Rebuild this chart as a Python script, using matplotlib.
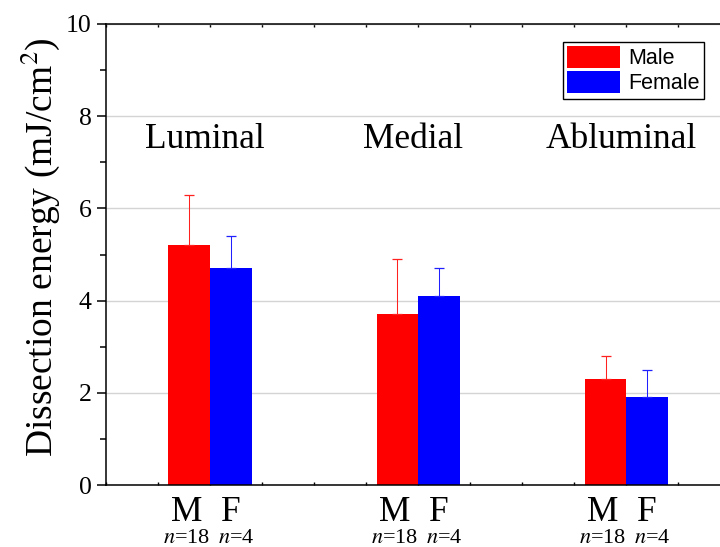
import numpy as np
import matplotlib.pyplot as plt
from matplotlib.ticker import MultipleLocator

plt.rcParams['font.family'] = 'Liberation Serif'
plt.rcParams['mathtext.fontset'] = 'stix'

# data
regions = ["Luminal", "Medial", "Abluminal"]
male_mean = [5.2, 3.7, 2.3]
male_err = [1.1, 1.2, 0.5]
female_mean = [4.7, 4.1, 1.9]
female_err = [0.7, 0.6, 0.6]
male_n = ["$n$=18", "$n$=18", "$n$=18"]
female_n = ["$n$=4", "$n$=4", "$n$=4"]

centers = np.array([2.0, 6.0, 10.0])
w = 0.8

fig = plt.figure(figsize=(7.2, 5.47), dpi=100)
ax = fig.add_axes([106 / 720, 1 - 485 / 547, 614 / 720, 461 / 547])

ax.bar(centers - w / 2, male_mean, w, color="#ff0000", label="Male", zorder=2)
ax.bar(centers + w / 2, female_mean, w, color="#0000ff", label="Female", zorder=2)
ax.errorbar(centers - w / 2, male_mean, yerr=[np.zeros(3), male_err], fmt="none",
            ecolor="#ff2020", elinewidth=0.75, capsize=3.6, capthick=0.9, zorder=3)
ax.errorbar(centers + w / 2, female_mean, yerr=[np.zeros(3), female_err], fmt="none",
            ecolor="#2020ff", elinewidth=0.75, capsize=3.6, capthick=0.9, zorder=3)

ax.set_xlim(0, 11.8)
ax.set_ylim(0, 10)
ax.yaxis.set_major_locator(MultipleLocator(2))
ax.yaxis.set_minor_locator(MultipleLocator(1))
ax.xaxis.set_major_locator(MultipleLocator(1))
ax.set_xticklabels([])
ax.tick_params(axis="x", which="both", direction="in", length=2, width=1.0, top=True, bottom=True)
ax.tick_params(axis="y", which="major", direction="out", length=6.5, width=1.1, labelsize=18.5, pad=4)
ax.tick_params(axis="y", which="minor", direction="out", length=4.3, width=1.1)

for sp in ["left", "bottom", "top"]:
    ax.spines[sp].set_linewidth(1.1)
ax.spines["right"].set_visible(False)

ax.grid(axis="y", color="#d4d4d4", linewidth=1.0, zorder=0)
ax.set_axisbelow(True)

for c, name in zip(centers, regions):
    ax.text(c - 0.1, 7.5, name, ha="center", va="center", fontsize=25.5)

xt = ax.get_xaxis_transform()
for c, mn, fn in zip(centers, male_n, female_n):
    ax.text(c - w / 2 - 0.05, -0.078, "M", transform=xt, ha="center", va="baseline", fontsize=25.5)
    ax.text(c + w / 2, -0.078, "F", transform=xt, ha="center", va="baseline", fontsize=25.5)
    ax.text(c - w / 2 - 0.05, -0.126, mn, transform=xt, ha="center", va="baseline", fontsize=16)
    ax.text(c + w / 2 + 0.1, -0.126, fn, transform=xt, ha="center", va="baseline", fontsize=16)

fig.text(40 / 720, 1 - 247 / 547, "Dissection energy (mJ/cm$^2$)", rotation=90,
         ha="center", va="center", fontsize=27)

leg = ax.legend(loc="upper right", bbox_to_anchor=(704 / 720, 1 - 42 / 547),
                bbox_transform=fig.transFigure, borderaxespad=0, fancybox=False,
                framealpha=1, edgecolor="black", prop={"family": "Liberation Sans", "size": 15.5},
                handlelength=2.45, handleheight=1.15, handletextpad=0.4,
                labelspacing=0.1, borderpad=0.2)
leg.get_frame().set_linewidth(1.0)

fig.savefig("out.png", dpi=100)
